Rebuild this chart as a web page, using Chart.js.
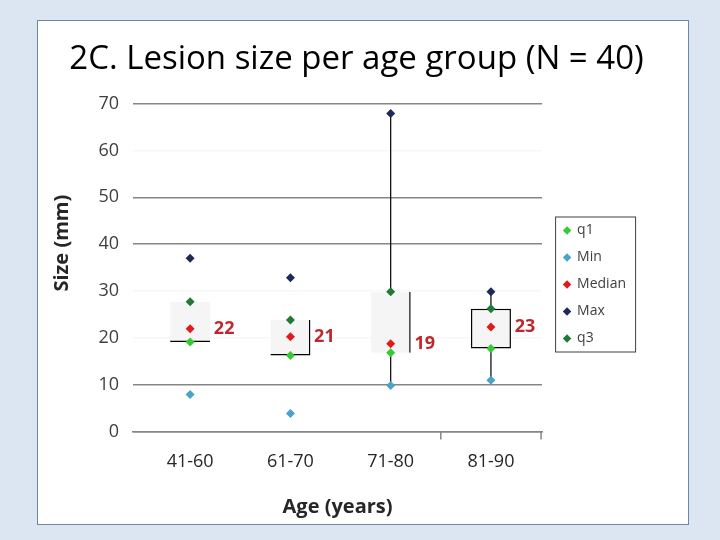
<!DOCTYPE html>
<html>
<head>
<meta charset="utf-8">
<script src="https://cdn.jsdelivr.net/npm/chart.js@4/dist/chart.umd.min.js"></script>
<style>
  body { margin: 0; width: 720px; height: 540px; background: #dce6f2; position: relative; overflow: hidden; }
  #panel { position: absolute; left: 37px; top: 20px; width: 650px; height: 503px; background: #fff; border: 1.5px solid #6f87a6; }
  #chart { position: absolute; left: 0; top: 0; }
</style>
</head>
<body>
<div id="panel"></div>
<canvas id="chart" width="720" height="540"></canvas>
<script>
const categories = ['41-60', '61-70', '71-80', '81-90'];
const q1 = [19.1, 16.2, 16.8, 17.7];
const minV = [7.9, 3.8, 9.8, 10.9];
const median = [21.9, 20.2, 18.7, 22.3];
const maxV = [37.0, 32.8, 67.9, 29.8];
const q3 = [27.7, 23.8, 29.8, 26.2];
const medianLabels = ['22', '21', '19', '23'];
const yTicks = [0, 10, 20, 30, 40, 50, 60, 70];

const FONT = "'Open Sans', sans-serif";

// box edges that are drawn in black, per group
const boxBorders = [
    { bottom: 1.5 },
    { right: 1.5, bottom: 1.5 },
    { right: 1.5 },
    { top: 1.5, right: 1.5, bottom: 1.5, left: 1.5 }
];
const showWhisker = [false, false, true, true];

const medianText = {
    id: 'medianText',
    afterDatasetsDraw(chart) {
        const { ctx, scales } = chart;
        ctx.save();
        ctx.font = "bold 18px " + FONT;
        ctx.fillStyle = '#c0272d';
        ctx.textAlign = 'center';
        ctx.textBaseline = 'middle';
        medianLabels.forEach((t, i) => {
            ctx.fillText(t, scales.x.getPixelForValue(i) + 34, scales.y.getPixelForValue(median[i]));
        });
        ctx.restore();
    }
};

// y title sits a bit above the middle of the axis in the original
const yTitle = {
    id: 'yTitle',
    afterDraw(chart) {
        const { ctx, scales } = chart;
        ctx.save();
        ctx.translate(scales.y.left + 14, scales.y.getPixelForValue(40.2));
        ctx.rotate(-Math.PI / 2);
        ctx.font = "bold 20px " + FONT;
        ctx.fillStyle = '#262626';
        ctx.textAlign = 'center';
        ctx.textBaseline = 'middle';
        ctx.fillText('Size (mm)', 0, 0);
        ctx.restore();
    }
};

// nudge legend and title a little, as in the original slide
const nudge = {
    id: 'nudge',
    afterLayout(chart) {
        const lg = chart.legend;
        lg.left += 9; lg.right += 9;
        lg.top += 11; lg.bottom += 11;
        const tb = chart.titleBlock;
        if (tb) { tb.left += 19; tb.right += 19; }
    }
};

const legendBox = {
    id: 'legendBox',
    afterDraw(chart) {
        const boxes = chart.legend.legendHitBoxes;
        if (!boxes || !boxes.length) return;
        const l = Math.min(...boxes.map(b => b.left)) - 9;
        const t = Math.min(...boxes.map(b => b.top)) - 7;
        const b = Math.max(...boxes.map(b => b.top + b.height)) + 6;
        const ctx = chart.ctx;
        ctx.save();
        ctx.strokeStyle = '#404040';
        ctx.lineWidth = 1;
        ctx.strokeRect(l + 0.5, t + 0.5, 80, b - t);
        ctx.restore();
    }
};

// short tick marks below the axis at the last two group edges
const xEdgeTicks = {
    id: 'xEdgeTicks',
    afterDraw(chart) {
        const { ctx, scales } = chart;
        const y0 = scales.y.getPixelForValue(0);
        ctx.save();
        ctx.strokeStyle = '#868686';
        ctx.lineWidth = 1.5;
        [2.5, 3.5].forEach(v => {
            const x = scales.x.getPixelForValue(v);
            ctx.beginPath();
            ctx.moveTo(x, y0);
            ctx.lineTo(x, y0 + 8);
            ctx.stroke();
        });
        ctx.restore();
    }
};

function pointSet(label, data, color) {
    return {
        type: 'line', label, data: data.map((v, i) => ({ x: i, y: v })), showLine: false,
        pointStyle: 'rectRot', pointRadius: 4.5, pointHoverRadius: 4.5,
        backgroundColor: color, borderColor: color, borderWidth: 0, order: 0
    };
}

new Chart(document.getElementById('chart'), {
    data: {
        datasets: [
            pointSet('q1', q1, '#33cc33'),
            pointSet('Min', minV, '#4aa3c8'),
            pointSet('Median', median, '#e31a1c'),
            pointSet('Max', maxV, '#1c2a55'),
            pointSet('q3', q3, '#1f7a35'),
            {
                type: 'bar', label: 'box',
                data: categories.map((c, i) => ({ x: i, y: [q1[i], q3[i]] })),
                backgroundColor: '#f5f5f5', borderColor: '#000',
                borderWidth: ctx => boxBorders[ctx.dataIndex],
                borderSkipped: false, barThickness: 40, grouped: false,
                inflateAmount: 0, order: 1
            },
            {
                type: 'bar', label: 'whisker',
                data: categories.map((c, i) => ({ x: i, y: [minV[i], maxV[i]] })),
                backgroundColor: showWhisker.map(s => s ? '#000' : 'rgba(0,0,0,0)'),
                borderWidth: 0, barThickness: 1.2, grouped: false,
                inflateAmount: 0, order: 2
            }
        ]
    },
    options: {
        responsive: false,
        animation: false,
        layout: { padding: { left: 48, right: 93, top: 24, bottom: 17 } },
        plugins: {
            title: {
                display: true,
                text: '2C. Lesion size per age group (N = 40)',
                color: '#000',
                font: { family: FONT, size: 33, weight: 'normal' },
                padding: { top: 16, bottom: 24 }
            },
            legend: {
                position: 'right',
                labels: {
                    filter: item => item.text !== 'box' && item.text !== 'whisker',
                    usePointStyle: true, pointStyle: 'rectRot',
                    boxWidth: 6, boxHeight: 6, padding: 13,
                    color: '#404040', font: { family: FONT, size: 14 }
                }
            },
            tooltip: { enabled: false }
        },
        scales: {
            x: {
                type: 'linear',
                min: -0.57, max: 3.51,
                offset: false,
                afterBuildTicks: s => { s.ticks = categories.map((c, i) => ({ value: i })); },
                grid: { display: false },
                border: { color: '#868686', width: 1.5 },
                ticks: {
                    color: '#262626', font: { family: FONT, size: 18 }, padding: 12,
                    callback: v => categories[v]
                },
                title: {
                    display: true, text: 'Age (years)', color: '#262626',
                    font: { family: FONT, size: 20, weight: 'bold' }, padding: { top: 10 }
                }
            },
            y: {
                min: 0, max: 70,
                afterBuildTicks: s => { s.ticks = yTicks.map(v => ({ value: v })); },
                afterFit: s => { s.width = 85; },
                grid: {
                    drawTicks: false, lineWidth: 1.5,
                    color: ctx => [20, 30, 60].includes(ctx.tick && ctx.tick.value) ? 'rgba(0,0,0,0.03)' : '#868686'
                },
                border: { display: false },
                ticks: { color: '#404040', font: { family: FONT, size: 18 }, padding: 14 }
            }
        }
    },
    plugins: [medianText, yTitle, nudge, legendBox, xEdgeTicks]
});
</script>
</body>
</html>
